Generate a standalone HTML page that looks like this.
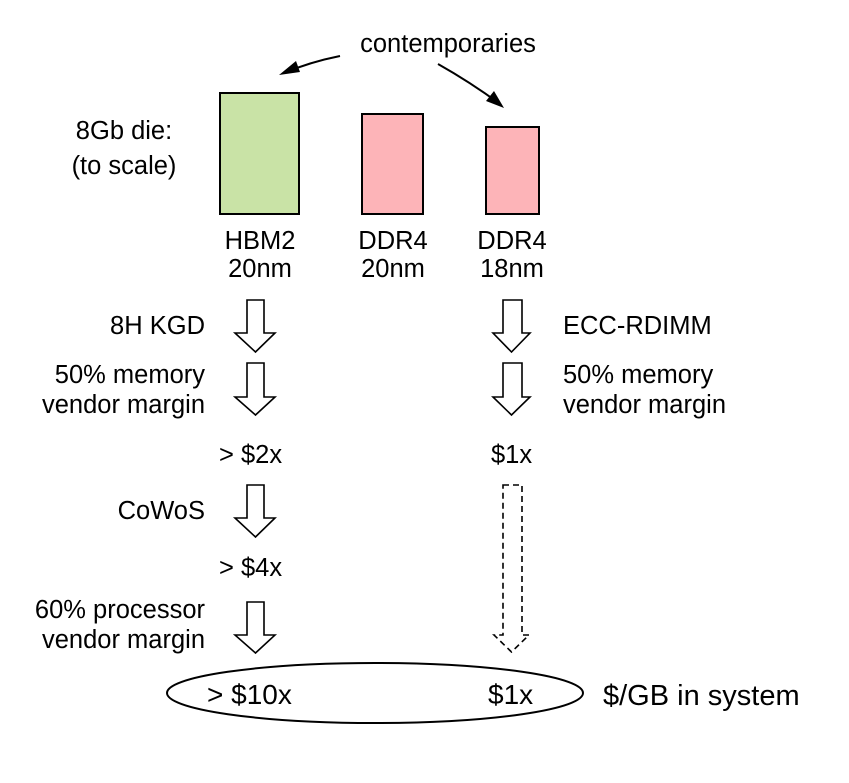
<!DOCTYPE html>
<html><head><style>body{margin:0;background:#fff}</style></head><body>
<svg width="849" height="778" viewBox="0 0 849 778" xmlns="http://www.w3.org/2000/svg" font-family="Liberation Sans, sans-serif" fill="#000">
<rect width="849" height="778" fill="#fff"/>
<text x="448" y="52" font-size="25.5" text-anchor="middle">contemporaries</text>
<path d="M340,56 Q310,62 284,73" fill="none" stroke="#000" stroke-width="2"/>
<path d="M279,75 L296,61 L300,72 z"/>
<path d="M438,64 Q470,82 500,104" fill="none" stroke="#000" stroke-width="2"/>
<path d="M504,108 L486,101 L494,91 z"/>
<rect x="220" y="93" width="79" height="121" fill="#c9e3a6" stroke="#000" stroke-width="2"/>
<rect x="362" y="114" width="61" height="100" fill="#fdb4b8" stroke="#000" stroke-width="2"/>
<rect x="486" y="127" width="53" height="87" fill="#fdb4b8" stroke="#000" stroke-width="2"/>
<g font-size="25.5">
<text x="124" y="139" text-anchor="middle">8Gb die:</text>
<text x="124" y="174" text-anchor="middle">(to scale)</text>
<text x="260" y="249" text-anchor="middle">HBM2</text>
<text x="260" y="277" text-anchor="middle">20nm</text>
<text x="393" y="249" text-anchor="middle">DDR4</text>
<text x="393" y="277" text-anchor="middle">20nm</text>
<text x="512" y="249" text-anchor="middle">DDR4</text>
<text x="512" y="277" text-anchor="middle">18nm</text>
<text x="205" y="334" text-anchor="end">8H KGD</text>
<text x="205" y="383" text-anchor="end">50% memory</text>
<text x="205" y="413" text-anchor="end">vendor margin</text>
<text x="219" y="463">&gt; $2x</text>
<text x="491" y="463">$1x</text>
<text x="205" y="519" text-anchor="end">CoWoS</text>
<text x="219" y="576">&gt; $4x</text>
<text x="205" y="618" text-anchor="end">60% processor</text>
<text x="205" y="648" text-anchor="end">vendor margin</text>
<text x="563" y="334">ECC-RDIMM</text>
<text x="563" y="383">50% memory</text>
<text x="563" y="413">vendor margin</text>
</g>
<g fill="#fff" stroke="#000" stroke-width="1.6">
<path d="M247,300 H264 V333 H275 L255.5,352 L235,333 H247 Z"/>
<path d="M247,363 H264 V397 H275 L255.5,415 L235,397 H247 Z"/>
<path d="M247,485 H264 V518 H275 L255.5,537 L235,518 H247 Z"/>
<path d="M247,602 H264 V635 H275 L255.5,653 L235,635 H247 Z"/>
<path d="M503,300 H522 V333 H530 L511.5,352 L493,333 H503 Z"/>
<path d="M503,363 H522 V397 H530 L511.5,415 L493,397 H503 Z"/>
<path d="M503,485 H522 V635 H529 L511.5,652 L494,635 H503 Z" stroke-dasharray="6,4"/>
<ellipse cx="375" cy="693" rx="208" ry="30" stroke-width="2"/>
</g>
<text x="207" y="704" font-size="28">&gt; $10x</text>
<text x="488" y="704" font-size="28">$1x</text>
<text x="603" y="705" font-size="29">$/GB in system</text>
</svg>
</body></html>
